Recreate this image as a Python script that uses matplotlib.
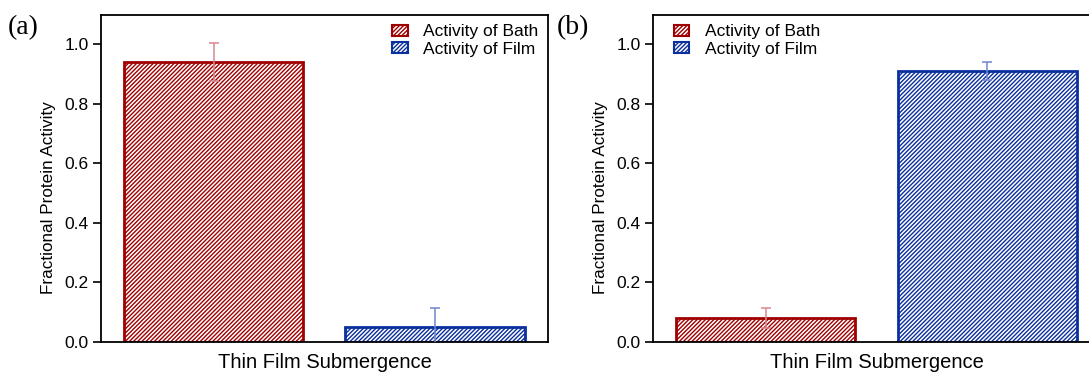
import matplotlib
matplotlib.use("Agg")
import matplotlib.pyplot as plt
from matplotlib.patches import Patch

# data
series = ["Activity of Bath", "Activity of Film"]
panel_a_values = [0.94, 0.05]
panel_a_errors = [0.065, 0.065]
panel_b_values = [0.08, 0.91]
panel_b_errors = [0.035, 0.03]
yticks = [0.0, 0.2, 0.4, 0.6, 0.8, 1.0]

edge_colors = ["#a00000", "#0a2f9e"]
err_colors = ["#d88890", "#6f86cf"]

plt.rcParams["font.family"] = ["Liberation Sans", "DejaVu Sans"]
plt.rcParams["hatch.linewidth"] = 1.0

fig = plt.figure(figsize=(10.89, 3.73), dpi=100)
ax_a = fig.add_axes([0.0927, 0.0839, 0.4105, 0.877])
ax_b = fig.add_axes([0.5996, 0.0839, 0.4105, 0.877])


def draw_panel(ax, values, errors, legend_loc, legend_anchor):
    x = list(range(len(values)))
    for i in x:
        ax.bar(x[i], values[i], width=0.81, facecolor="white",
               edgecolor=edge_colors[i], hatch="////////", linewidth=2, zorder=2)
        ax.errorbar(x[i], values[i], yerr=errors[i], fmt="none",
                    ecolor=err_colors[i], elinewidth=1.1, capsize=3.5,
                    capthick=1.1, zorder=3)
    ax.set_xlim(-0.51, 1.51)
    ax.set_ylim(0, 1.1)
    ax.set_yticks(yticks)
    ax.set_yticklabels([f"{t:.1f}" for t in yticks], fontsize=12.5)
    ax.set_xticks([])
    ax.tick_params(axis="y", direction="out", length=6, width=1.2, pad=3)
    for s in ax.spines.values():
        s.set_linewidth(1.3)
    ax.set_ylabel("Fractional Protein Activity", fontsize=12.3)
    ax.yaxis.set_label_coords(-0.10, 0.44)
    ax.set_xlabel("Thin Film Submergence", fontsize=14.5, labelpad=8)
    handles = [Patch(facecolor="white", edgecolor=edge_colors[i], hatch="////////",
                     linewidth=1.5, label=series[i]) for i in range(len(series))]
    ax.legend(handles=handles, loc=legend_loc, bbox_to_anchor=legend_anchor,
              frameon=False, fontsize=12.5, handlelength=0.9, handleheight=0.6,
              handletextpad=0.9, labelspacing=0.15, borderaxespad=0.15)


draw_panel(ax_a, panel_a_values, panel_a_errors, "upper right", (1.0, 1.0))
draw_panel(ax_b, panel_b_values, panel_b_errors, "upper left", (0.025, 1.0))

fig.text(0.007, 0.925, "(a)", fontsize=20, family="Liberation Serif", va="center")
fig.text(0.511, 0.925, "(b)", fontsize=20, family="Liberation Serif", va="center")

fig.savefig("out.png", dpi=100)
